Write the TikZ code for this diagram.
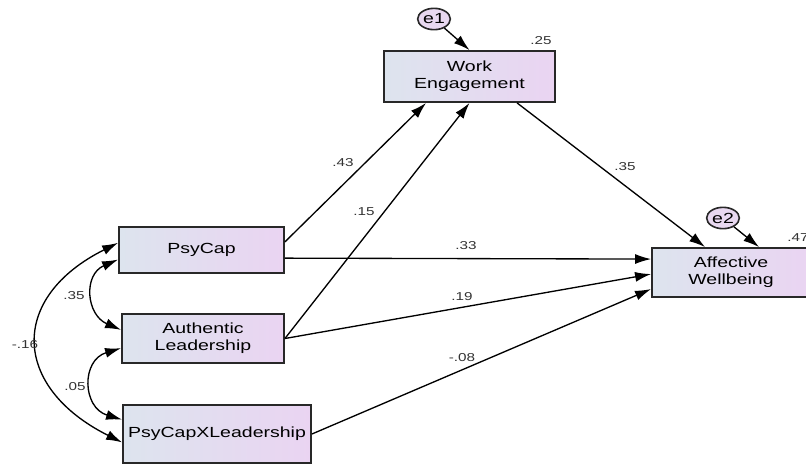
\documentclass[tikz,border=0pt]{standalone}
\usepackage{fontspec}
\setmainfont{Liberation Sans}[FakeStretch=1.33]
\usetikzlibrary{arrows.meta,shapes.geometric,calc}

\definecolor{boxleft}{RGB}{221,228,238}
\definecolor{boxright}{RGB}{234,212,242}
\definecolor{errfill}{RGB}{232,216,240}
\definecolor{boxline}{RGB}{40,40,40}

\tikzset{every picture/.style={line width=0.75pt}}
\tikzset{
  var/.style={draw=boxline, line width=1.4pt, left color=boxleft, right color=boxright,
    inner sep=0pt, align=center, font=\fontsize{11}{12.5}\selectfont},
  errvar/.style={ellipse, draw=boxline, line width=1.2pt, fill=errfill, inner sep=0pt,
    minimum width=24.5pt, minimum height=16pt, font=\fontsize{11}{12}\selectfont},
  reg/.style={-{Latex[length=12pt,width=7.5pt]}, line width=1pt},
  cov/.style={{Latex[length=12pt,width=7.5pt]}-{Latex[length=12pt,width=7.5pt]}, line width=1pt},
  coef/.style={font=\fontsize{8.6}{9}\selectfont, text=black!80}
}

\begin{document}
\begin{tikzpicture}[x=0.75pt,y=0.75pt,yscale=-1]
\clip (0,0) rectangle (806,465);

% observed variables
\node[var, minimum width=128.25pt, minimum height=38.25pt] (we) at (469.5,76.5) {Work\\Engagement};
\node[var, minimum width=123.75pt, minimum height=34.5pt] (pc) at (201.5,250) {PsyCap};
\node[var, minimum width=121.5pt, minimum height=36.75pt] (al) at (203,338.5) {Authentic\\Leadership};
\node[var, minimum width=141pt, minimum height=43.5pt] (px) at (217,434) {PsyCapXLeadership};
\node[var, minimum width=118.5pt, minimum height=36.75pt] (aw) at (731,272.5) {Affective\\Wellbeing};

% error terms
\node[errvar] (e1) at (434,19) {e1};
\node[errvar] (e2) at (723,218) {e2};

% regression paths
\draw[reg] (e1) -- (we.north);
\draw[reg] (e2) -- ($(aw.north west)+(108,0)$);
\draw[reg] ($(pc.north east)!0.33!(pc.south east)$) -- ($(we.south west)+(43,0)$);
\draw[reg] (al.east) -- (we.south);
\draw[reg] ($(pc.north east)!0.67!(pc.south east)$) -- ($(aw.north west)+(0,12)$);
\draw[reg] (al.east) -- ($(aw.north west)+(0,27)$);
\draw[reg] (px.east) -- ($(aw.north west)+(0,42)$);
\draw[reg] ($(we.south west)+(134,0)$) -- ($(aw.north west)+(54,0)$);

% covariances
\draw[cov] ($(pc.north west)!0.7!(pc.south west)$) .. controls +(-35,15) and +(-35,-15) .. ($(al.north west)!0.33!(al.south west)$);
\draw[cov] ($(al.north west)!0.69!(al.south west)$) .. controls +(-40,12) and +(-40,-12) .. ($(px.north west)!0.26!(px.south west)$);
\draw[cov] ($(pc.north west)!0.35!(pc.south west)$) .. controls +(-110,55) and +(-110,-55) .. ($(px.north west)!0.64!(px.south west)$);

% estimates
\node[coef] (r2we) at (541,41) {.25};
\node[coef] (r2aw) at (798,238) {.47};
\node[coef] (b1) at (343,163) {.43};
\node[coef] (b2) at (364,212) {.15};
\node[coef] (b3) at (466,246) {.33};
\node[coef] (b4) at (462,297) {.19};
\node[coef] (b5) at (462,358) {-.08};
\node[coef] (b6) at (625,167) {.35};
\node[coef] (c1) at (74,296) {.35};
\node[coef] (c2) at (75,387) {.05};
\node[coef] (c3) at (25,345) {-.16};

\end{tikzpicture}
\end{document}
